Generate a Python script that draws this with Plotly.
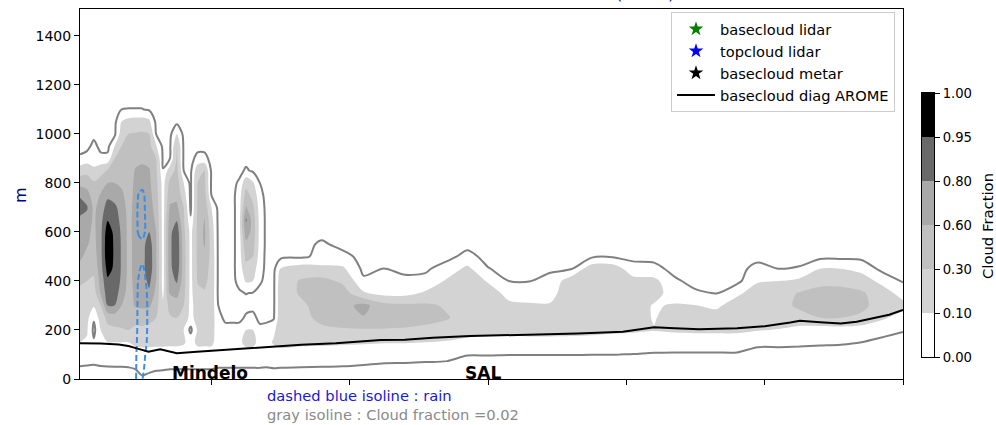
import numpy as np
import plotly.graph_objects as go

# ---------------- vertical levels of the profiles (m)
heights_m = [0, 50, 100, 150, 200, 250, 300, 350, 400, 450, 500, 550,
             600, 650, 700, 750, 800, 850, 900, 950, 1000, 1050, 1100, 1150]

# ---------------- positions of the profiles along the section
cf_x = [1, 2, 3, 4, 5, 6, 7, 8, 9, 10, 11, 12, 13, 14, 15, 16, 17, 18, 19, 20,
        21, 22, 23, 24, 25, 26, 27, 28, 29,
        30, 33, 36, 39, 42, 45, 48, 51, 54, 57, 60, 63, 66, 69, 72, 75, 78,
        81, 84, 87, 90, 93, 96, 99, 102, 105, 108, 111, 114, 117, 120]

# ---------------- cloud fraction (%) profiles, bottom -> top
cf_x001 = [0, 1.9, 5, 10, 18, 20, 22, 26, 34, 50, 64, 68, 70, 76, 86, 78, 50, 20, 3, 0, 0, 0, 0, 0]
cf_x002 = [0, 1.7, 4.5, 9, 12, 15, 20, 24, 30, 42, 52, 62, 66, 72, 82, 68, 48, 24, 5, 0, 0, 0, 0, 0]
cf_x003 = [0, 1.6, 4, 3, 0, 3, 12, 20, 27, 36, 45, 50, 52, 54, 52, 45, 34, 14, 6, 4, 0, 0, 0, 0]
cf_x004 = [0, 1.8, 5, 8, 10, 18, 30, 62, 68, 72, 74, 75, 75, 74, 70, 62, 45, 22, 4, 0, 0, 0, 0, 0]
cf_x005 = [0, 1.95, 5, 10, 24, 40, 80, 88, 92, 97, 99, 99, 98, 94, 86, 76, 60, 34, 4, 0, 0, 0, 0, 0]
cf_x006 = [0, 2, 5, 10, 26, 45, 80, 88, 91, 92, 92, 92, 91, 88, 84, 70, 60, 42, 30, 10, 0, 0, 0, 0]
cf_x007 = [0, 2, 5, 10, 28, 45, 60, 70, 76, 78, 78, 78, 77, 74, 70, 64, 55, 45, 38, 30, 18, 10, 2, 0]
cf_x008 = [0, 2.1, 5, 10, 30, 40, 45, 48, 50, 52, 52, 52, 52, 52, 50, 48, 45, 42, 40, 36, 30, 16, 2.2, 0]
cf_x009 = [0, 2.5, 6, 14, 26, 40, 62, 64, 65, 65, 65, 65, 66, 66, 66, 65, 64, 62, 50, 42, 32, 18, 2.2, 0]
cf_x010 = [0, 7, 8, 13, 26, 42, 64, 68, 70, 72, 72, 72, 72, 72, 72, 72, 70, 66, 52, 44, 34, 18, 2.2, 0]
cf_x011 = [0, 4, 7, 14, 26, 36, 64, 76, 84, 90, 90, 88, 80, 72, 68, 66, 64, 62, 50, 40, 30, 14, 1, 0]
cf_x012 = [0, 3, 6.5, 14, 24, 30, 40, 52, 60, 62, 62, 62, 60, 55, 50, 45, 40, 35, 30, 12, 2, 0, 0, 0]
cf_x013 = [0, 2.8, 6.5, 14, 18, 18, 14, 8, 6, 6, 6, 6, 6, 6, 6, 6, 6, 2.5, 0, 0, 0, 0, 0, 0]
cf_x014 = [0, 2.5, 6, 14, 22, 28, 40, 62, 70, 74, 75, 75, 74, 70, 62, 50, 38, 20, 2, 0, 0, 0, 0, 0]
cf_x015 = [0, 2.5, 6, 14, 24, 30, 45, 66, 82, 90, 92, 92, 90, 78, 64, 52, 44, 38, 34, 30, 10, 0, 0, 0]
cf_x016 = [0, 2.5, 6, 12, 10, 22, 30, 38, 42, 44, 44, 42, 38, 34, 30, 18, 10, 2, 0, 0, 0, 0, 0, 0]
cf_x017 = [0, 2.5, 6, 7, 0, 7, 7, 7, 7, 7, 7, 7, 7, 3, 0, 0, 0, 0, 0, 0, 0, 0, 0, 0]
cf_x018 = [0, 2.5, 6, 14, 12, 18, 20, 26, 32, 34, 36, 36, 36, 36, 34, 32, 30, 22, 4, 0, 0, 0, 0, 0]
cf_x019 = [0, 2.5, 6, 14, 18, 20, 24, 28, 36, 42, 52, 62, 64, 61, 50, 42, 36, 30, 4, 0, 0, 0, 0, 0]
cf_x020 = [0, 2.5, 6, 14, 16, 18, 20, 22, 24, 24, 24, 22, 20, 16, 10, 2, 0, 0, 0, 0, 0, 0, 0, 0]
cf_x021 = [0, 2.2, 5, 6, 6, 5, 2, 0, 0, 0, 0, 0, 0, 0, 0, 0, 0, 0, 0, 0, 0, 0, 0, 0]
cf_x022 = [0, 2.2, 5, 6, 5, 0, 0, 0, 0, 0, 0, 0, 0, 0, 0, 0, 0, 0, 0, 0, 0, 0, 0, 0]
cf_x023 = [0, 2.2, 5, 6, 5, 0, 0, 0, 0, 0, 0, 0, 0, 0, 0, 0, 0, 0, 0, 0, 0, 0, 0, 0]
cf_x024 = [0, 2.2, 5, 8, 5, 0, 0, 1, 4, 5, 5, 5, 5, 5, 5, 5, 3, 0, 0, 0, 0, 0, 0, 0]
cf_x025 = [0, 2.2, 6, 15, 10, 3, 0, 2.2, 12, 22, 38, 52, 72, 82, 62, 42, 22, 3, 0, 0, 0, 0, 0, 0]
cf_x026 = [0, 2.2, 6, 15, 10, 4, 0, 1.5, 10, 18, 30, 40, 48, 46, 36, 24, 12, 1, 0, 0, 0, 0, 0, 0]
cf_x027 = [0, 2.2, 5, 7, 4, 0, 0, 0, 3, 5, 6, 7, 7, 7, 6, 4, 2, 0, 0, 0, 0, 0, 0, 0]
cf_x028 = [0, 2.1, 5, 7, 5, 0, 0, 0, 0, 0, 0, 0, 0, 0, 0, 0, 0, 0, 0, 0, 0, 0, 0, 0]
cf_x029 = [0, 2.3, 6, 12, 8, 1, 0, 0, 0, 0, 0, 0, 0, 0, 0, 0, 0, 0, 0, 0, 0, 0, 0, 0]
cf_x030 = [0, 2.2, 6, 17, 22, 22, 22, 22, 20, 10.5, 0, 0, 0, 0, 0, 0, 0, 0, 0, 0, 0, 0, 0, 0]
cf_x033 = [0, 2.1, 5, 15, 22, 24, 27, 33, 33, 20, 0, 0, 0, 0, 0, 0, 0, 0, 0, 0, 0, 0, 0, 0]
cf_x036 = [0, 2, 5.5, 14, 26, 38, 40, 40, 40, 14, 5, 3, 0, 0, 0, 0, 0, 0, 0, 0, 0, 0, 0, 0]
cf_x039 = [0, 1.9, 5, 13, 28, 45, 50, 45, 26, 13, 4, 0, 0, 0, 0, 0, 0, 0, 0, 0, 0, 0, 0, 0]
cf_x042 = [0, 1.5, 5, 12, 28, 58, 66, 12, 3.5, 0, 0, 0, 0, 0, 0, 0, 0, 0, 0, 0, 0, 0, 0, 0]
cf_x045 = [0, 1.2, 4, 11, 28, 50, 40, 7, 4, 2.2, 0, 0, 0, 0, 0, 0, 0, 0, 0, 0, 0, 0, 0, 0]
cf_x048 = [0, 1.1, 4, 11, 28, 42, 36, 7, 4, 0, 0, 0, 0, 0, 0, 0, 0, 0, 0, 0, 0, 0, 0, 0]
cf_x051 = [0, 1, 3.6, 10, 26, 38, 35, 13, 4, 1, 0, 0, 0, 0, 0, 0, 0, 0, 0, 0, 0, 0, 0, 0]
cf_x054 = [0, 0.9, 3.3, 9, 24, 32, 28, 20, 12, 5, 0, 0, 0, 0, 0, 0, 0, 0, 0, 0, 0, 0, 0, 0]
cf_x057 = [0, 0, 2.2, 7, 20, 24, 24, 24, 24, 14, 4, 0, 0, 0, 0, 0, 0, 0, 0, 0, 0, 0, 0, 0]
cf_x060 = [0, 0, 2.2, 6, 18, 22, 22, 20, 9, 2.3, 0, 0, 0, 0, 0, 0, 0, 0, 0, 0, 0, 0, 0, 0]
cf_x063 = [0, 0, 2.1, 6, 18, 22, 14, 7, 2, 0, 0, 0, 0, 0, 0, 0, 0, 0, 0, 0, 0, 0, 0, 0]
cf_x066 = [0, 0, 2.1, 6, 19, 22, 12, 6.4, 1.8, 0, 0, 0, 0, 0, 0, 0, 0, 0, 0, 0, 0, 0, 0, 0]
cf_x069 = [0, 0, 2.1, 6, 19, 22, 12, 6.4, 4, 1, 0, 0, 0, 0, 0, 0, 0, 0, 0, 0, 0, 0, 0, 0]
cf_x072 = [0, 0, 2.1, 6, 18, 23, 24, 24, 20, 1, 0, 0, 0, 0, 0, 0, 0, 0, 0, 0, 0, 0, 0, 0]
cf_x075 = [0, 0, 2.05, 6, 16, 22, 24, 24, 24, 22, 0, 0, 0, 0, 0, 0, 0, 0, 0, 0, 0, 0, 0, 0]
cf_x078 = [0, 0, 2.05, 5.5, 14, 22, 24, 24, 24, 20, 1, 0, 0, 0, 0, 0, 0, 0, 0, 0, 0, 0, 0, 0]
cf_x081 = [0, 0, 1.9, 5, 13, 20, 22, 22, 16, 5, 0, 0, 0, 0, 0, 0, 0, 0, 0, 0, 0, 0, 0, 0]
cf_x084 = [0, 0, 1.6, 4.5, 11, 9.2, 9, 18, 15, 4, 0, 0, 0, 0, 0, 0, 0, 0, 0, 0, 0, 0, 0, 0]
cf_x087 = [0, 0, 1.5, 4.5, 13, 20, 12, 5, 3, 0, 0, 0, 0, 0, 0, 0, 0, 0, 0, 0, 0, 0, 0, 0]
cf_x090 = [0, 0, 1.5, 4.5, 14, 20, 10.5, 3, 0, 0, 0, 0, 0, 0, 0, 0, 0, 0, 0, 0, 0, 0, 0, 0]
cf_x093 = [0, 0, 1.5, 4.5, 14, 19, 8, 1.8, 0, 0, 0, 0, 0, 0, 0, 0, 0, 0, 0, 0, 0, 0, 0, 0]
cf_x096 = [0, 0, 1.5, 4.5, 14, 20, 20, 8, 0, 0, 0, 0, 0, 0, 0, 0, 0, 0, 0, 0, 0, 0, 0, 0]
cf_x099 = [0, 0, 0.5, 3, 11, 20, 22, 20, 9, 4, 0, 0, 0, 0, 0, 0, 0, 0, 0, 0, 0, 0, 0, 0]
cf_x102 = [0, 0, 0.5, 3, 9.5, 20, 22, 22, 10, 2, 0, 0, 0, 0, 0, 0, 0, 0, 0, 0, 0, 0, 0, 0]
cf_x105 = [0, 0, 0.5, 2.8, 7, 22, 36, 32, 14, 2.5, 0, 0, 0, 0, 0, 0, 0, 0, 0, 0, 0, 0, 0, 0]
cf_x108 = [0, 0, 0.4, 2.6, 5, 30, 42, 40, 24, 10, 0, 0, 0, 0, 0, 0, 0, 0, 0, 0, 0, 0, 0, 0]
cf_x111 = [0, 0, 0.4, 2.4, 6, 30, 42, 40, 24, 10, 0, 0, 0, 0, 0, 0, 0, 0, 0, 0, 0, 0, 0, 0]
cf_x114 = [0, 0, 0.2, 2, 5, 26, 38, 34, 20, 7, 0, 0, 0, 0, 0, 0, 0, 0, 0, 0, 0, 0, 0, 0]
cf_x117 = [0, 0, 0, 1.4, 2.9, 13, 20, 20, 7, 0, 0, 0, 0, 0, 0, 0, 0, 0, 0, 0, 0, 0, 0, 0]
cf_x120 = [0, 0, 0, 0.5, 2.3, 6, 16, 6, 1.5, 0, 0, 0, 0, 0, 0, 0, 0, 0, 0, 0, 0, 0, 0, 0]

# ---------------- rain field (dashed blue isoline)
rain_x = [8.5, 9.0, 9.5, 10.0, 10.5, 11.0, 11.5]
rain_heights_m = [0, 50, 100, 150, 200, 250, 300, 350, 400, 450, 500, 550, 600, 650, 700, 750, 800, 850]
rain_h0000 = [0, 0.3, 1.2, 0.55, 0, 0, 0]
rain_h0050 = [0, 0.25, 1.2, 0.9, 0.2, 0, 0]
rain_h0100 = [0, 0.2, 1.2, 1.2, 0.4, 0, 0]
rain_h0150 = [0, 0.1, 1.0, 1.3, 0.7, 0, 0]
rain_h0200 = [0, 0, 0.9, 1.3, 0.85, 0, 0]
rain_h0250 = [0, 0, 0.85, 1.3, 0.9, 0, 0]
rain_h0300 = [0, 0, 0.8, 1.3, 0.9, 0, 0]
rain_h0350 = [0, 0, 0.75, 1.2, 0.75, 0, 0]
rain_h0400 = [0, 0, 0.65, 1.0, 0.5, 0, 0]
rain_h0450 = [0, 0, 0.3, 0.8, 0.2, 0, 0]
rain_h0500 = [0, 0, 0, 0, 0, 0, 0]
rain_h0550 = [0, 0, 0, 0, 0, 0, 0]
rain_h0600 = [0, 0, 0.7, 1.2, 0.3, 0, 0]
rain_h0650 = [0, 0, 0.8, 1.2, 0.35, 0, 0]
rain_h0700 = [0, 0, 0.8, 1.1, 0.3, 0, 0]
rain_h0750 = [0, 0, 0.6, 0.9, 0.2, 0, 0]
rain_h0800 = [0, 0, 0, 0, 0, 0, 0]
rain_h0850 = [0, 0, 0, 0, 0, 0, 0]
rain_level = 0.5

# ---------------- AROME diagnosed cloud base (m)
arome_x = [1, 4, 6.6, 8, 9.2, 10.9, 12.6, 15.0, 17.9, 21.2, 26, 28.5, 33, 38, 44.5, 48,
           52, 57.4, 62, 66, 73, 79.5, 82, 84, 87, 90.5, 96, 100, 103.7, 105.1, 108,
           111, 113.3, 116.2, 118, 120]
arome_base_m = [146, 145, 141, 135, 125, 111, 121, 105, 111, 118, 128, 132, 140, 146, 159, 160,
                168, 175, 178, 180, 186, 193, 203, 211, 207, 203, 207, 215, 231, 238, 232,
                227, 234, 252, 262, 282]

# ---------------- colour levels
cf_levels = [0.0, 0.1, 0.3, 0.6, 0.8, 0.95, 1.0]
band_colors = ['#ffffff', '#d3d3d3', '#c0c0c0', '#a9a9a9', '#696969', '#000000']
level_labels = ['0.00', '0.10', '0.30', '0.60', '0.80', '0.95', '1.00']
isoline_level_pct = 2

# ---------------- legend / texts
legend_names = ['basecloud lidar', 'topcloud lidar', 'basecloud metar']
legend_colors = ['green', 'blue', 'black']
station_names = ['Mindelo', 'SAL']
station_x = [14.0, 56.4]
title_text = 'Cloud fraction section Mindelo - SAL (+12h)'
xtick_vals = [20, 40, 60, 80, 100, 120]
ytick_vals = [0, 200, 400, 600, 800, 1000, 1200, 1400]

# ================= build
cf_columns = [cf_x001, cf_x002, cf_x003, cf_x004, cf_x005, cf_x006, cf_x007, cf_x008, cf_x009,
              cf_x010, cf_x011, cf_x012, cf_x013, cf_x014, cf_x015, cf_x016, cf_x017, cf_x018,
              cf_x019, cf_x020, cf_x021, cf_x022, cf_x023, cf_x024, cf_x025, cf_x026, cf_x027,
              cf_x028, cf_x029, cf_x030, cf_x033, cf_x036, cf_x039, cf_x042, cf_x045, cf_x048,
              cf_x051, cf_x054, cf_x057, cf_x060, cf_x063, cf_x066, cf_x069, cf_x072, cf_x075,
              cf_x078, cf_x081, cf_x084, cf_x087, cf_x090, cf_x093, cf_x096, cf_x099, cf_x102,
              cf_x105, cf_x108, cf_x111, cf_x114, cf_x117, cf_x120]
cf_pct = np.array(cf_columns, dtype=float).T          # rows = heights, cols = x
band_index = np.interp(cf_pct / 100.0, cf_levels, np.arange(len(cf_levels)))

rain_rows = [rain_h0000, rain_h0050, rain_h0100, rain_h0150, rain_h0200, rain_h0250,
             rain_h0300, rain_h0350, rain_h0400, rain_h0450, rain_h0500, rain_h0550,
             rain_h0600, rain_h0650, rain_h0700, rain_h0750, rain_h0800, rain_h0850]

nb = len(band_colors)
band_scale = []
for i, c in enumerate(band_colors):
    band_scale += [[i / nb, c], [(i + 1) / nb, c]]

SMOOTH = 0.85
fig = go.Figure()

fig.add_trace(go.Contour(
    x=cf_x, y=heights_m, z=band_index, colorscale=band_scale, autocontour=False,
    contours=dict(start=1, end=len(cf_levels) - 2, size=1, coloring='fill', showlines=False),
    line=dict(width=0, smoothing=SMOOTH), showscale=False, hoverinfo='skip', showlegend=False))

fig.add_trace(go.Contour(
    x=cf_x, y=heights_m, z=cf_pct, autocontour=False,
    contours=dict(start=isoline_level_pct, end=isoline_level_pct, size=1, coloring='none'),
    line=dict(color='#808080', width=2, smoothing=SMOOTH), showscale=False,
    hoverinfo='skip', showlegend=False))

fig.add_trace(go.Contour(
    x=rain_x, y=rain_heights_m, z=rain_rows, autocontour=False,
    contours=dict(start=rain_level, end=rain_level, size=1, coloring='none'),
    line=dict(color='#3a8ee6', width=2, dash='6px,3px', smoothing=1), showscale=False,
    hoverinfo='skip', showlegend=False))

fig.add_trace(go.Scatter(
    x=arome_x, y=arome_base_m, mode='lines', line=dict(color='black', width=2),
    name='basecloud diag AROME', legendrank=4, hoverinfo='skip'))

for k, (nm, col) in enumerate(zip(legend_names, legend_colors)):
    fig.add_trace(go.Scatter(x=[None], y=[None], mode='markers',
                             marker=dict(symbol='star', size=11, color=col),
                             name=nm, legendrank=k + 1))

# colour bar built from the level list (uniform band spacing as in the original)
fig.add_trace(go.Heatmap(
    x=[0.5], y=[i + 0.5 for i in range(nb)], z=[[i] for i in range(nb)],
    colorscale=band_scale, zmin=-0.5, zmax=nb - 0.5, showscale=False,
    xaxis='x2', yaxis='y2', hoverinfo='skip', showlegend=False))

# ---------------- layout geometry
L, R, T, B = 80, 10, 9, 46
W, H = 996, 425
pw = W - L - R
ph = H - T - B
def px_x(px):
    return (px - L) / pw
def px_y(py):
    return (H - B - py) / ph

annotations = [
    dict(text=title_text, xref='paper', yref='paper', x=px_x(491), y=px_y(5.4),
         xanchor='center', yanchor='bottom', showarrow=False,
         font=dict(size=16.7, color='darkblue')),
    dict(text='m', xref='paper', yref='paper', x=px_x(20), y=px_y(195),
         xanchor='center', yanchor='middle',
         textangle=-90, showarrow=False, font=dict(size=16, color='darkblue')),
    dict(text='Cloud Fraction', xref='paper', yref='paper', x=px_x(987), y=px_y(226),
         xanchor='center', yanchor='middle',
         textangle=-90, showarrow=False, font=dict(size=14.8, color='black')),
    dict(text='dashed blue isoline : rain', xref='paper', yref='paper', x=px_x(265),
         y=px_y(395), xanchor='left', yanchor='middle', showarrow=False,
         font=dict(size=14.7, color='#1a1ad0')),
    dict(text='gray isoline : Cloud fraction =0.02', xref='paper', yref='paper',
         x=px_x(265), y=px_y(415), xanchor='left', yanchor='middle', showarrow=False,
         font=dict(size=14.7, color='#8a8a8a')),
]
for nm, sx in zip(station_names, station_x):
    annotations.append(dict(text='<b>' + nm + '</b>', x=sx, y=0, xref='x', yref='y',
                            xanchor='left', yanchor='bottom', yshift=-6, showarrow=False,
                            font=dict(size=17, color='black')))

fig.update_layout(
    width=W, height=H, margin=dict(l=L, r=R, t=T, b=B, autoexpand=False),
    plot_bgcolor='white', paper_bgcolor='white',
    font=dict(family='DejaVu Sans', size=14, color='black'),
    showlegend=True,
    legend=dict(x=px_x(895), y=px_y(12), xanchor='right', yanchor='top',
                bgcolor='rgba(255,255,255,0.85)', bordercolor='#cccccc', borderwidth=1,
                font=dict(size=14.6), traceorder='normal', itemwidth=38),
    xaxis=dict(domain=[0, px_x(903)], range=[1, 120], tickvals=xtick_vals,
               showticklabels=False, ticks='outside', ticklen=5, tickcolor='black',
               showline=True, linecolor='black', linewidth=1, mirror=True,
               showgrid=False, zeroline=False, automargin=False),
    yaxis=dict(range=[0, 1510], tickvals=ytick_vals, ticks='outside', ticklen=5,
               tickcolor='black', showline=True, linecolor='black', linewidth=1, mirror=True,
               showgrid=False, zeroline=False, tickfont=dict(size=14), automargin=False),
    xaxis2=dict(domain=[px_x(922), px_x(934)], range=[0, 1], anchor='y2',
                showticklabels=False, ticks='', showline=True, linecolor='black',
                mirror=True, showgrid=False, zeroline=False, automargin=False),
    yaxis2=dict(domain=[px_y(357), px_y(93)], range=[0, nb], anchor='x2', side='right',
                tickvals=list(range(len(level_labels))), ticktext=level_labels,
                ticks='outside', ticklen=5, tickcolor='black', showline=True,
                linecolor='black', mirror=True, showgrid=False, zeroline=False,
                tickfont=dict(size=13.2), automargin=False),
    annotations=annotations,
)

# the page body has a default 8px margin; remove it so the figure sits at the page origin
fig.write_html('out.html', config={'displayModeBar': False},
               post_script="document.body.style.margin='0';")
